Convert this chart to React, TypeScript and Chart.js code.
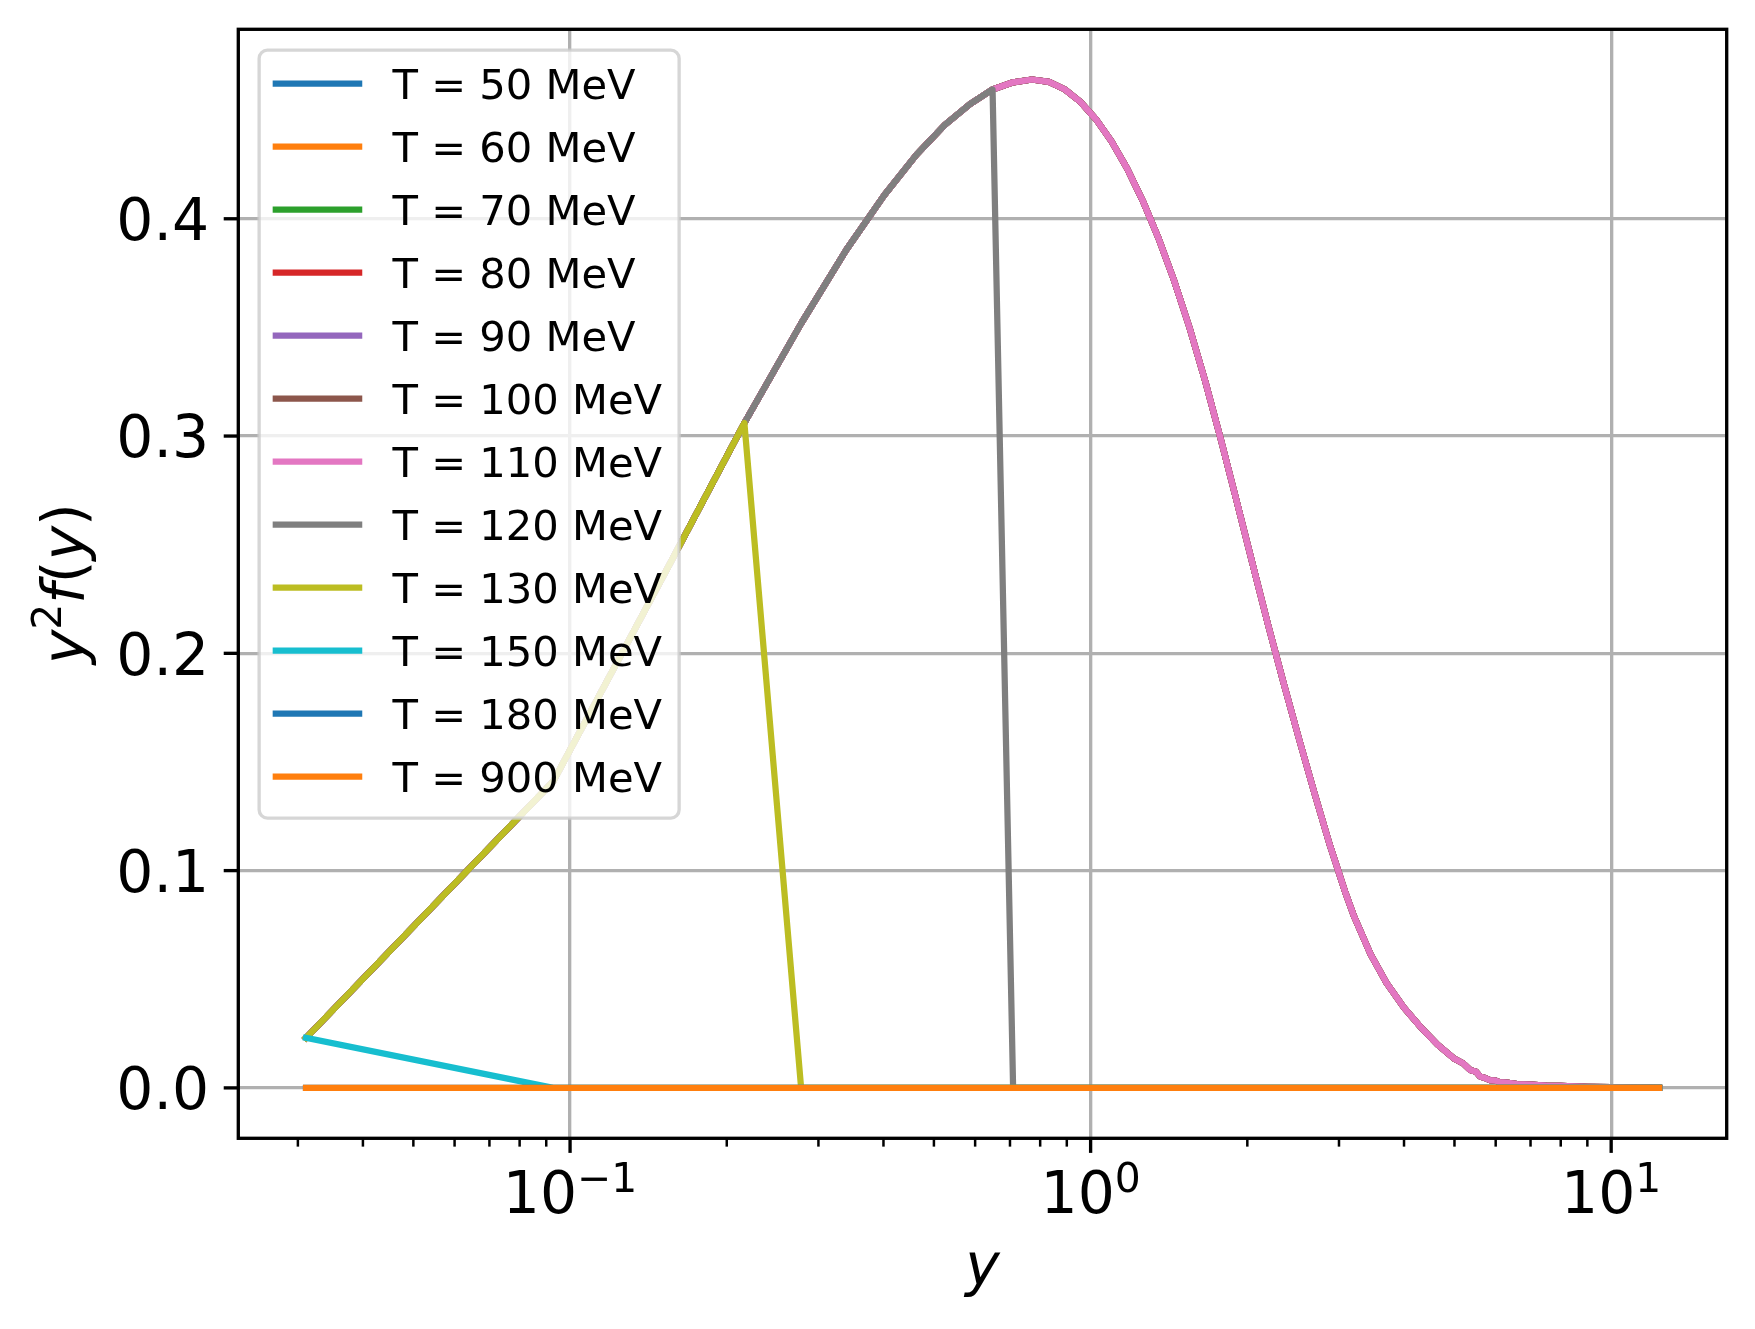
import React, { useEffect, useRef } from 'react';
import { Chart, registerables } from 'chart.js';

Chart.register(...registerables);

const W = 1755;
const H = 1329;

// ---- data ----
const temperatures = [50, 60, 70, 80, 90, 100, 110, 120, 130, 150, 180, 900];
const seriesColors = [
  '#1f77b4', '#ff7f0e', '#2ca02c', '#d62728', '#9467bd', '#8c564b',
  '#e377c2', '#7f7f7f', '#bcbd22', '#17becf', '#1f77b4', '#ff7f0e',
];

// y (momentum over temperature) sample positions
const yPositions = [
  0.0311, 0.0928, 0.1545, 0.2162, 0.2779, 0.3396, 0.4013, 0.463, 0.5247, 0.5864,
  0.6481, 0.7098, 0.7715, 0.8318, 0.8913, 0.955, 1.0233, 1.0965, 1.1749, 1.2589,
  1.349, 1.4454, 1.5488, 1.6596, 1.7783, 1.9055, 2.0417, 2.1878, 2.3442, 2.5119,
  2.6915, 2.884, 3.0903, 3.2, 3.45, 3.7, 4.0, 4.3, 4.64, 5.0,
  5.2, 5.36, 5.5, 5.6, 5.7, 5.85, 6.0, 6.1, 6.3, 6.6,
  7.0, 7.5, 8.0, 9.0, 10.0, 11.2, 12.36,
];
// y^2 f(y)
const distValues = [
  0.023, 0.141, 0.24, 0.306, 0.3518, 0.3858, 0.4108, 0.4295, 0.4432, 0.4528,
  0.4595, 0.4628, 0.4641, 0.463, 0.4596, 0.4539, 0.4459, 0.4357, 0.4232, 0.4084,
  0.3913, 0.3718, 0.3499, 0.3254, 0.2986, 0.2706, 0.2422, 0.214, 0.187, 0.1609,
  0.1357, 0.1114, 0.0895, 0.0795, 0.0615, 0.0484, 0.0369, 0.0281, 0.0199, 0.0134,
  0.0112, 0.0082, 0.0074, 0.0052, 0.0047, 0.0036, 0.0033, 0.0026, 0.0024, 0.0017,
  0.0015, 0.001, 0.0009, 0.0005, 0.0003, 0.0001, 0.0,
];
// number of leading points of each series that follow the distribution (the rest are 0)
const keptPoints = [57, 57, 57, 57, 57, 57, 57, 11, 4, 1, 0, 0];

const yTickValues = [0, 0.1, 0.2, 0.3, 0.4];
const xMajorTicks = [0.1, 1, 10];
const xTickExponents = ['\u22121', '0', '1'];
const xMinorTicks = [
  0.03, 0.04, 0.05, 0.06, 0.07, 0.08, 0.09,
  0.2, 0.3, 0.4, 0.5, 0.6, 0.7, 0.8, 0.9,
  2, 3, 4, 5, 6, 7, 8, 9,
];
const xRange = [0.02305, 16.67];
const yRange = [-0.0232, 0.4872];

// ---- style constants ----
const FONT = '"DejaVu Sans", "Liberation Sans", sans-serif';
const PT = 300 / 72;
const TICK_FS = 14 * PT; // 58.3
const SUP_FS = TICK_FS * 0.7;
const LEG_FS = 10 * PT; // 41.7
const LINE_W = 1.5 * PT;

const mplPlugin = {
  id: 'mplOverlay',
  afterDatasetsDraw(chart: any) {
    const ctx: CanvasRenderingContext2D = chart.ctx;
    const { left, right, top, bottom } = chart.chartArea;
    const xs = chart.scales.x;
    const ys = chart.scales.y;
    ctx.save();

    const seg = (x1: number, y1: number, x2: number, y2: number) => {
      ctx.beginPath();
      ctx.moveTo(x1, y1);
      ctx.lineTo(x2, y2);
      ctx.stroke();
    };

    // spines
    ctx.strokeStyle = '#000';
    ctx.lineWidth = 0.8 * PT;
    ctx.lineJoin = 'miter';
    ctx.strokeRect(left, top, right - left, bottom - top);

    // ticks
    ctx.lineCap = 'butt';
    yTickValues.forEach((v) => {
      const py = ys.getPixelForValue(v);
      seg(left - 3.5 * PT, py, left, py);
    });
    xMajorTicks.forEach((v) => {
      const px = xs.getPixelForValue(v);
      seg(px, bottom, px, bottom + 3.5 * PT);
    });
    ctx.lineWidth = 0.6 * PT;
    xMinorTicks.forEach((v) => {
      const px = xs.getPixelForValue(v);
      seg(px, bottom, px, bottom + 2 * PT);
    });

    // y tick labels
    ctx.fillStyle = '#000';
    ctx.textBaseline = 'alphabetic';
    ctx.font = `${TICK_FS}px ${FONT}`;
    ctx.textAlign = 'right';
    yTickValues.forEach((v) => {
      const py = ys.getPixelForValue(v);
      ctx.fillText(v.toFixed(1), left - 7 * PT, py + 0.729 * TICK_FS / 2);
    });

    // x tick labels 10^n
    ctx.textAlign = 'left';
    xMajorTicks.forEach((v, i) => {
      const px = xs.getPixelForValue(v);
      ctx.font = `${TICK_FS}px ${FONT}`;
      const wBase = ctx.measureText('10').width;
      ctx.font = `${SUP_FS}px ${FONT}`;
      const wSup = ctx.measureText(xTickExponents[i]).width;
      const x0 = px - (wBase + wSup) / 2;
      ctx.font = `${TICK_FS}px ${FONT}`;
      ctx.fillText('10', x0, bottom + 74.7);
      ctx.font = `${SUP_FS}px ${FONT}`;
      ctx.fillText(xTickExponents[i], x0 + wBase, bottom + 53.7);
    });

    // x axis title
    ctx.font = `italic ${TICK_FS}px ${FONT}`;
    ctx.textAlign = 'center';
    ctx.fillText('y', (left + right) / 2, bottom + 146.7);

    // y axis title: y^2 f(y)
    const parts = [
      { t: 'y', f: `italic ${TICK_FS}px ${FONT}`, dy: 0 },
      { t: '2', f: `${SUP_FS}px ${FONT}`, dy: -23 },
      { t: 'f', f: `italic ${TICK_FS}px ${FONT}`, dy: 0 },
      { t: '(', f: `${TICK_FS}px ${FONT}`, dy: 0 },
      { t: 'y', f: `italic ${TICK_FS}px ${FONT}`, dy: 0 },
      { t: ')', f: `${TICK_FS}px ${FONT}`, dy: 0 },
    ];
    let total = 0;
    const widths = parts.map((p) => {
      ctx.font = p.f;
      const w = ctx.measureText(p.t).width;
      total += w;
      return w;
    });
    ctx.save();
    ctx.translate(left - 154, (top + bottom) / 2);
    ctx.rotate(-Math.PI / 2);
    ctx.textAlign = 'left';
    let cx = -total / 2;
    parts.forEach((p, i) => {
      ctx.font = p.f;
      ctx.fillText(p.t, cx, p.dy);
      cx += widths[i];
    });
    ctx.restore();

    // legend
    const lx = left + 0.5 * LEG_FS;
    const ly = top + 0.5 * LEG_FS;
    const lw = 420;
    const lh = 768;
    const r = 0.2 * LEG_FS;
    ctx.beginPath();
    ctx.moveTo(lx + r, ly);
    ctx.lineTo(lx + lw - r, ly);
    ctx.arcTo(lx + lw, ly, lx + lw, ly + r, r);
    ctx.lineTo(lx + lw, ly + lh - r);
    ctx.arcTo(lx + lw, ly + lh, lx + lw - r, ly + lh, r);
    ctx.lineTo(lx + r, ly + lh);
    ctx.arcTo(lx, ly + lh, lx, ly + lh - r, r);
    ctx.lineTo(lx, ly + r);
    ctx.arcTo(lx, ly, lx + r, ly, r);
    ctx.closePath();
    ctx.fillStyle = 'rgba(255,255,255,0.8)';
    ctx.fill();
    ctx.strokeStyle = 'rgba(204,204,204,0.8)';
    ctx.lineWidth = 0.8 * PT;
    ctx.stroke();

    const hx0 = lx + 0.4 * LEG_FS;
    const hx1 = hx0 + 2 * LEG_FS;
    const tx = hx1 + 0.8 * LEG_FS;
    ctx.font = `${LEG_FS}px ${FONT}`;
    ctx.textAlign = 'left';
    ctx.lineCap = 'square';
    ctx.lineWidth = LINE_W;
    chart.data.datasets.forEach((ds: any, i: number) => {
      const rowY = ly + 33.5 + 63 * i;
      ctx.strokeStyle = ds.borderColor;
      seg(hx0, rowY, hx1, rowY);
      ctx.fillStyle = '#000';
      ctx.fillText(ds.label, tx, rowY + 0.729 * LEG_FS / 2);
    });

    ctx.restore();
  },
};

export default function App() {
  const canvasRef = useRef<HTMLCanvasElement | null>(null);

  useEffect(() => {
    document.body.style.margin = '0';
    const canvas = canvasRef.current;
    if (!canvas) return;
    const n = temperatures.length;
    const datasets = temperatures.map((t, i) => ({
      label: `T = ${t} MeV`,
      data: yPositions.map((x, k) => ({ x, y: k < keptPoints[i] ? distValues[k] : 0 })),
      borderColor: seriesColors[i],
      backgroundColor: seriesColors[i],
      borderWidth: LINE_W,
      borderCapStyle: 'square' as const,
      borderJoinStyle: 'round' as const,
      pointRadius: 0,
      pointHoverRadius: 0,
      fill: false,
      tension: 0,
      order: n - i,
    }));

    const chart = new Chart(canvas, {
      type: 'line',
      data: { datasets },
      options: {
        responsive: false,
        animation: false,
        devicePixelRatio: 1,
        events: [],
        layout: { padding: { top: 29.3, right: 28.3, bottom: 0, left: 0 } },
        plugins: { legend: { display: false }, tooltip: { enabled: false }, title: { display: false } },
        scales: {
          x: {
            type: 'logarithmic',
            min: xRange[0],
            max: xRange[1],
            afterBuildTicks: (scale: any) => {
              scale.ticks = xMajorTicks.map((v) => ({ value: v }));
            },
            afterFit: (scale: any) => {
              scale.height = 190.7;
            },
            ticks: { display: false },
            grid: { color: '#b0b0b0', lineWidth: 0.8 * PT, drawTicks: false },
            border: { display: false },
          },
          y: {
            type: 'linear',
            min: yRange[0],
            max: yRange[1],
            afterBuildTicks: (scale: any) => {
              scale.ticks = yTickValues.map((v) => ({ value: v }));
            },
            afterFit: (scale: any) => {
              scale.width = 238.3;
            },
            ticks: { display: false },
            grid: { color: '#b0b0b0', lineWidth: 0.8 * PT, drawTicks: false },
            border: { display: false },
          },
        },
      },
      plugins: [mplPlugin],
    } as any);

    return () => chart.destroy();
  }, []);

  return (
    <div style={{ width: W, height: H, background: '#fff' }}>
      <canvas ref={canvasRef} width={W} height={H} style={{ display: 'block', width: W, height: H }} />
    </div>
  );
}
